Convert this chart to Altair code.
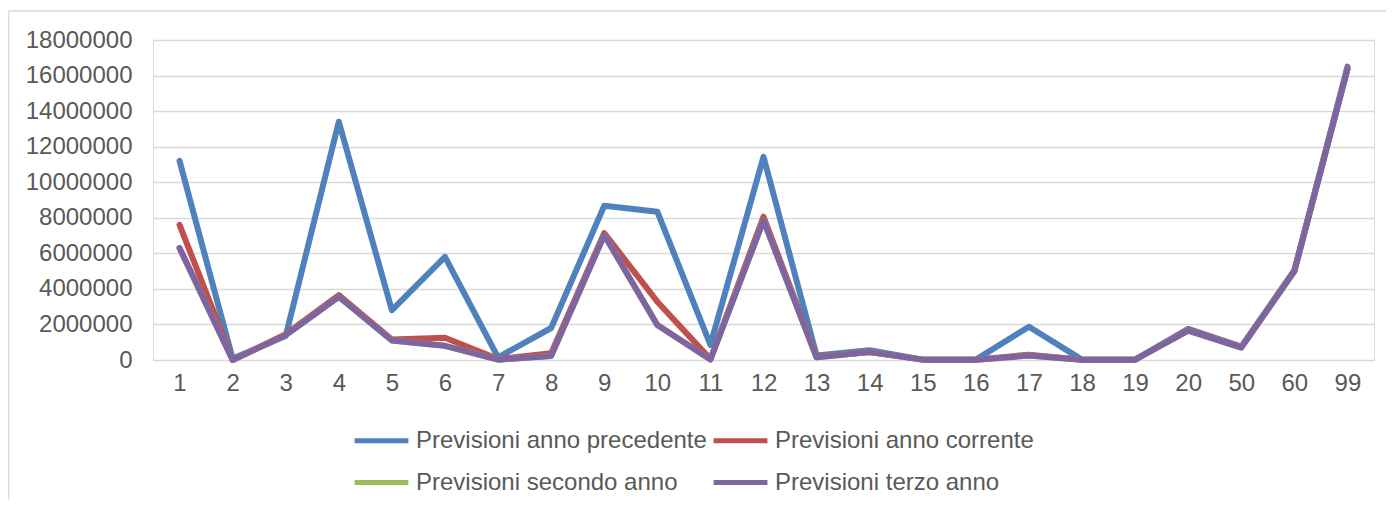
import altair as alt
import pandas as pd

categories = ["1", "2", "3", "4", "5", "6", "7", "8", "9", "10", "11", "12",
              "13", "14", "15", "16", "17", "18", "19", "20", "50", "60", "99"]
prev_precedente = [11200000, 80000, 1350000, 13400000, 2800000, 5800000, 150000, 1800000,
                   8680000, 8340000, 850000, 11430000, 250000, 550000, 20000, 20000,
                   1870000, 20000, 20000, 1750000, 750000, 5050000, 16500000]
prev_corrente = [7600000, 0, 1450000, 3650000, 1150000, 1250000, 50000, 380000,
                 7140000, 3280000, 50000, 8060000, 200000, 450000, 20000, 20000,
                 300000, 20000, 20000, 1700000, 720000, 5000000, 16400000]
prev_secondo = [6300000, 0, 1400000, 3560000, 1100000, 800000, 20000, 230000,
                7030000, 1970000, 30000, 7850000, 150000, 450000, 20000, 20000,
                250000, 20000, 20000, 1650000, 700000, 5000000, 16350000]
prev_terzo = [6300000, 0, 1400000, 3560000, 1100000, 800000, 20000, 230000,
              7030000, 1970000, 30000, 7850000, 150000, 450000, 20000, 20000,
              250000, 20000, 20000, 1650000, 700000, 5000000, 16350000]

series_names = ["Previsioni anno precedente", "Previsioni anno corrente",
                "Previsioni secondo anno", "Previsioni terzo anno"]
series_colors = ["#4F81BD", "#C0504D", "#9BBB59", "#8064A2"]
y_ticks = [0, 2000000, 4000000, 6000000, 8000000, 10000000, 12000000,
           14000000, 16000000, 18000000]

rows = []
for k, (name, vals) in enumerate(zip(series_names,
                                     [prev_precedente, prev_corrente, prev_secondo, prev_terzo])):
    for i, (c, v) in enumerate(zip(categories, vals)):
        rows.append({"cat": c, "value": v, "serie": name, "ord": k, "idx": i})
df = pd.DataFrame(rows)

FONT = "Liberation Sans"
GRID = "#D9D9D9"
TXT = "#595959"

lines = alt.Chart(df).mark_line(strokeWidth=6, strokeCap="round", strokeJoin="round").encode(
    x=alt.X("cat:N", sort=categories, title=None,
            axis=alt.Axis(labelAngle=0, ticks=False, domain=False, grid=False,
                          labelPadding=11, labelFontSize=24, labelFont=FONT,
                          labelColor=TXT)),
    y=alt.Y("value:Q", title=None,
            scale=alt.Scale(domain=[0, 18000000], nice=False, zero=True),
            axis=alt.Axis(values=y_ticks, format="d", ticks=False, domain=False,
                          gridColor=GRID, gridWidth=1.5, labelPadding=21,
                          labelFontSize=24, labelFont=FONT, labelColor=TXT)),
    color=alt.Color("serie:N", sort=series_names,
                    scale=alt.Scale(domain=series_names, range=series_colors),
                    legend=alt.Legend(title=None, orient="none", legendX=199, legendY=371,
                                      columns=2, direction="horizontal",
                                      symbolType="stroke", symbolSize=2900,
                                      symbolStrokeWidth=5, labelFontSize=24,
                                      labelFont=FONT, labelColor=TXT,
                                      labelLimit=500, labelOffset=5,
                                      columnPadding=-4, rowPadding=-11)),
    order=alt.Order("ord:Q"),
    detail="serie:N",
)

frame_left = alt.Chart().mark_rule(color=GRID, strokeWidth=1.5).encode(
    x=alt.value(-144.5), y=alt.value(-29), y2=alt.value(480))
frame_top = alt.Chart().mark_rule(color=GRID, strokeWidth=1.5).encode(
    x=alt.value(-144.5), x2=alt.value(1260), y=alt.value(-29))

chart = alt.layer(frame_left, frame_top, lines).properties(
    width=1221, height=320,
    autosize=alt.AutoSizeParams(type="none"),
    padding={"left": 145, "top": 32, "right": 12, "bottom": 140},
).configure_view(stroke=None).configure(background="white")

chart.save("out.html", embed_options={"renderer": "svg", "actions": False})
